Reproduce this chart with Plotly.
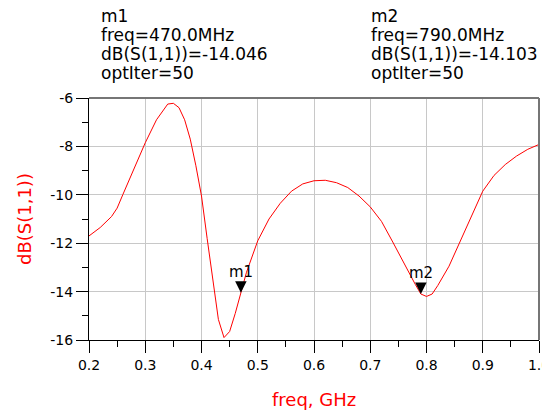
import plotly.graph_objects as go

# ---- data ----
freq_ghz = [0.20, 0.22, 0.24, 0.25, 0.26, 0.28, 0.30, 0.32, 0.34, 0.35, 0.36, 0.37,
            0.38, 0.39, 0.40, 0.41, 0.42, 0.43, 0.44, 0.45, 0.46, 0.47, 0.48, 0.50,
            0.52, 0.54, 0.56, 0.58, 0.60, 0.62, 0.64, 0.66, 0.68, 0.70, 0.72, 0.74,
            0.76, 0.78, 0.79, 0.80, 0.81, 0.82, 0.84, 0.86, 0.88, 0.90, 0.92, 0.94,
            0.96, 0.98, 1.00]
s11_db = [-11.70, -11.35, -10.90, -10.55, -10.00, -8.95, -7.85, -6.90, -6.25, -6.22,
          -6.40, -6.90, -7.70, -8.80, -10.05, -11.80, -13.50, -15.15, -15.90, -15.65,
          -14.90, -14.05, -13.20, -11.90, -11.00, -10.35, -9.85, -9.55, -9.42, -9.40,
          -9.50, -9.70, -10.05, -10.50, -11.10, -11.95, -12.85, -13.70, -14.10, -14.20,
          -14.10, -13.75, -12.95, -11.90, -10.85, -9.85, -9.20, -8.75, -8.40, -8.12,
          -7.92]

marker_names = ["m1", "m2"]
marker_freq_ghz = [0.47, 0.79]
marker_freq_label = ["470.0MHz", "790.0MHz"]
marker_db = [-14.046, -14.103]
marker_optiter = [50, 50]

x_tick_vals = [0.2, 0.3, 0.4, 0.5, 0.6, 0.7, 0.8, 0.9, 1.0]
x_tick_text = ["0.2", "0.3", "0.4", "0.5", "0.6", "0.7", "0.8", "0.9", "1.0"]
y_tick_vals = [-16, -14, -12, -10, -8, -6]
y_tick_text = ["-16", "-14", "-12", "-10", "-8", "-6"]

# ---- layout geometry (page pixels; the page body adds an 8 px offset) ----
OFF = 8
W, H = 550 - OFF, 412 - OFF
ML, MR, MT, MB = 89 - OFF, 11, 98 - OFF, 72
PW, PH = W - ML - MR, H - MT - MB
FONT = "DejaVu Sans"


def px_x(px):
    # page pixel -> paper fraction
    return (px - OFF - ML) / PW


def px_y(py):
    return (H - MB - (py - OFF)) / PH


fig = go.Figure()
fig.add_trace(go.Scatter(x=freq_ghz, y=s11_db, mode="lines",
                         line=dict(color="#ff0000", width=1), hoverinfo="skip",
                         showlegend=False))

annotations = []
# marker triangles with labels
for name, fx, fy in zip(marker_names, marker_freq_ghz, marker_db):
    annotations.append(dict(x=fx, y=fy, xref="x", yref="y", text=name,
                            showarrow=True, ax=0, ay=-21, arrowhead=2, arrowsize=2.3,
                            arrowwidth=1, arrowcolor="black", standoff=0,
                            font=dict(family=FONT, size=15, color="black")))

# readout blocks
block_left_px = [100, 370]
line_center_px = [16.0, 35.0, 54.0, 73.0]
for i, name in enumerate(marker_names):
    lines = [name,
             "freq=" + marker_freq_label[i],
             "dB(S(1,1))=" + f"{marker_db[i]:.3f}",
             "optIter=" + str(marker_optiter[i])]
    for txt, cy in zip(lines, line_center_px):
        annotations.append(dict(x=px_x(block_left_px[i]), y=px_y(cy), xref="paper",
                                yref="paper", xanchor="left", yanchor="middle",
                                text=txt, showarrow=False, borderpad=0,
                                font=dict(family=FONT, size=17, color="black")))

# axis titles
annotations.append(dict(x=0.5, y=px_y(399), xref="paper", yref="paper",
                        xanchor="center", yanchor="middle", text="freq, GHz",
                        showarrow=False, font=dict(family=FONT, size=18, color="#ff0000")))
annotations.append(dict(x=px_x(24), y=0.5, xref="paper", yref="paper",
                        xanchor="center", yanchor="middle", text="dB(S(1,1))",
                        textangle=-90, showarrow=False,
                        font=dict(family=FONT, size=18, color="#ff0000")))

fig.update_layout(
    width=W, height=H,
    margin=dict(l=ML, r=MR, t=MT, b=MB, autoexpand=False),
    paper_bgcolor="white", plot_bgcolor="white",
    font=dict(family=FONT, size=14, color="black"),
    showlegend=False,
    annotations=annotations,
    shapes=[
        dict(type="line", xref="paper", yref="paper", x0=0, x1=1, y0=1, y1=1,
             line=dict(color="#767676", width=2)),
        dict(type="line", xref="paper", yref="paper", x0=1, x1=1, y0=0, y1=1,
             line=dict(color="#767676", width=2)),
    ],
    xaxis=dict(range=[0.2, 1.0], tickvals=x_tick_vals, ticktext=x_tick_text,
               showgrid=True, gridcolor="#c8c8c8", gridwidth=1,
               showline=True, linecolor="black", linewidth=1,
               ticks="outside", ticklen=12, tickcolor="black", tickwidth=1,
               ticklabeloverflow="allow",
               minor=dict(dtick=0.05, tick0=0.2, ticks="outside", ticklen=6,
                          tickcolor="black", showgrid=False),
               zeroline=False, tickfont=dict(family=FONT, size=14, color="black")),
    yaxis=dict(range=[-16, -6], tickvals=y_tick_vals, ticktext=y_tick_text,
               showgrid=True, gridcolor="#c8c8c8", gridwidth=1,
               showline=True, linecolor="black", linewidth=1,
               ticks="outside", ticklen=12, tickcolor="black", tickwidth=1,
               minor=dict(dtick=1, tick0=-16, ticks="outside", ticklen=6,
                          tickcolor="black", showgrid=False),
               zeroline=False, tickfont=dict(family=FONT, size=14, color="black")),
)

fig.write_html("out.html")
